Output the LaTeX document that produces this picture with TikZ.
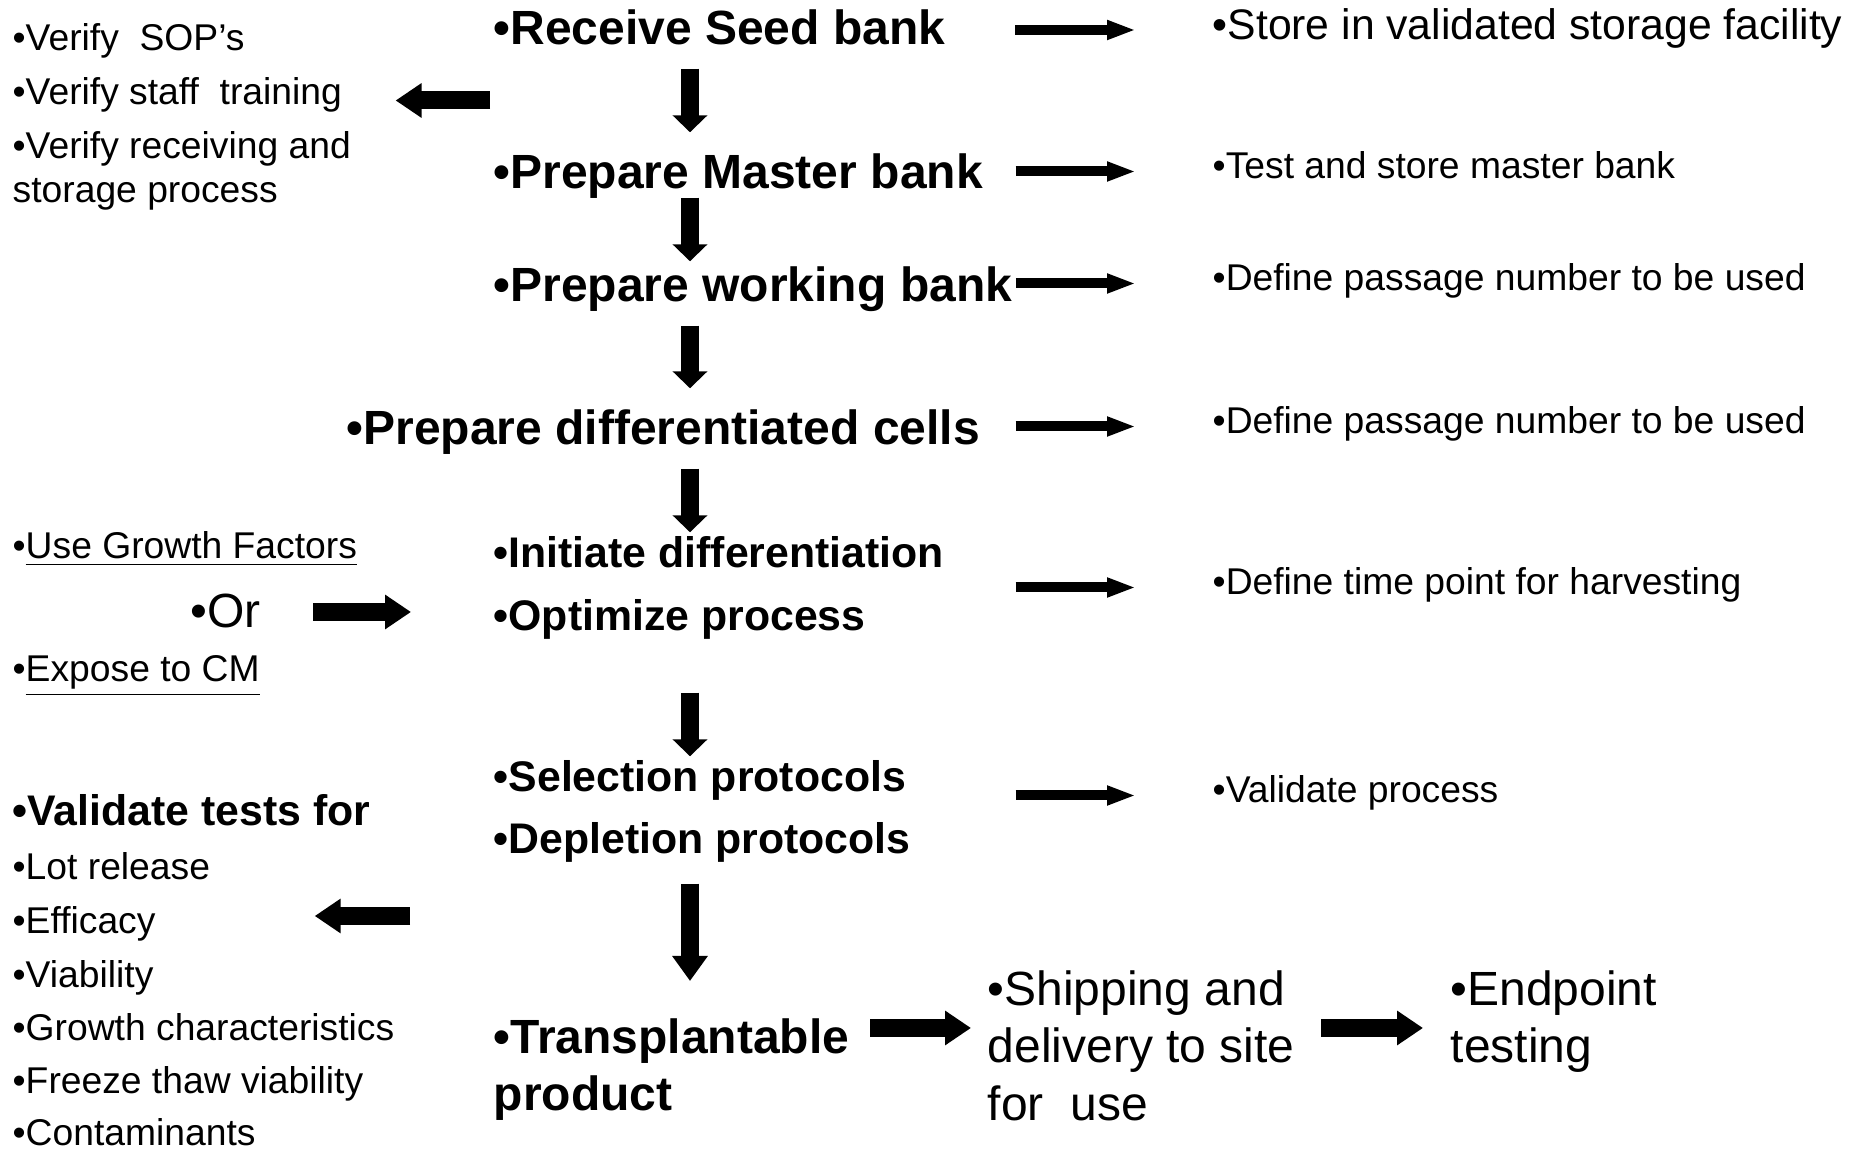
\documentclass[tikz,border=0pt]{standalone}
\usepackage{fontspec}
\setmainfont{Liberation Sans}[Ligatures=CommonOff]
\usetikzlibrary{arrows.meta}

\begin{document}
\begin{tikzpicture}[
	stage/.style={font=\fontsize{13.66}{16.3}\selectfont\bfseries, inner sep=0pt, anchor=base west, text height=0.36cm, text depth=0.12cm},
	substage/.style={font=\fontsize{12.18}{14.5}\selectfont\bfseries, inner sep=0pt, anchor=base west, text height=0.315cm, text depth=0.105cm},
	finalstage/.style={font=\fontsize{13.66}{16.2}\selectfont\bfseries, inner sep=0pt, anchor=north west, align=left},
	note/.style={font=\fontsize{12.15}{14.5}\selectfont, inner sep=0pt, anchor=base west, text height=0.31cm, text depth=0.11cm},
	rnote/.style={font=\fontsize{10.6}{12.5}\selectfont, inner sep=0pt, anchor=base west, text height=0.26cm, text depth=0.11cm},
	lnote/.style={font=\fontsize{10.6}{12.5}\selectfont, inner sep=0pt, anchor=base west},
	bignote/.style={font=\fontsize{13.66}{16.36}\selectfont, inner sep=0pt, anchor=north west, align=left},
	downarrow/.style={line width=0.18cm, -{Triangle[width=0.34cm, length=0.17cm]}},
	thinarrow/.style={line width=0.10cm, -{Triangle[width=0.18cm, length=0.29cm]}, shorten >=0.76cm},
	blockarrow/.style={line width=0.18cm, -{Triangle[width=0.33cm, length=0.26cm]}}
]
\useasboundingbox (0,0) rectangle (18.64,-11.50);

% main process column
\node[stage] (recv) at (4.93,-0.45) {•Receive Seed bank};
\node[stage] (master) at (4.93,-1.89) {•Prepare Master bank};
\node[stage] (working) at (4.93,-3.02) {•Prepare working bank};
\node[stage] (diff) at (3.46,-4.45) {•Prepare differentiated cells};
\node[substage] (init) at (4.93,-5.68) {•Initiate differentiation};
\node[substage] (optim) at (4.93,-6.31) {•Optimize process};
\node[substage] (select) at (4.93,-7.92) {•Selection protocols};
\node[substage] (deplet) at (4.93,-8.54) {•Depletion protocols};
\node[finalstage] (trans) at (4.93,-10.18) {•Transplantable\\product};
\node[bignote] (ship) at (9.87,-9.70) {•Shipping and\\delivery to site\\for\ \ use};
\node[bignote] (endp) at (14.50,-9.70) {•Endpoint\\testing};

% right notes
\node[note] (store) at (12.12,-0.40) {•Store in validated storage facility};
\node[rnote] (test) at (12.12,-1.79) {•Test and store master bank};
\node[rnote] (pass1) at (12.12,-2.91) {•Define passage number to be used};
\node[rnote] (pass2) at (12.12,-4.34) {•Define passage number to be used};
\node[rnote] (harvest) at (12.12,-5.95) {•Define time point for harvesting};
\node[rnote] (valproc) at (12.12,-8.03) {•Validate process};

% left notes
\node[lnote] (vsop) at (0.12,-0.51) {•Verify\ \ SOP’s};
\node[lnote] (vstaff) at (0.12,-1.05) {•Verify staff\ \ training};
\node[lnote, anchor=north west, align=left] (vproc) at (0.12,-1.31) {•Verify receiving and\\storage process};
\node[lnote] (growf) at (0.12,-5.59) {•\underline{Use Growth Factors}};
\node[bignote, anchor=base west] (orr) at (1.90,-6.28) {•Or};
\node[lnote] (expcm) at (0.12,-6.82) {•\underline{Expose to CM}};
\node[substage] (valid) at (0.12,-8.26) {•Validate tests for};
\node[lnote] (lot) at (0.12,-8.80) {•Lot release};
\node[lnote] (eff) at (0.12,-9.34) {•Efficacy};
\node[lnote] (via) at (0.12,-9.88) {•Viability};
\node[lnote] (growth) at (0.12,-10.41) {•Growth characteristics};
\node[lnote] (freeze) at (0.12,-10.94) {•Freeze thaw viability};
\node[lnote] (contam) at (0.12,-11.46) {•Contaminants};

% down the column
\coordinate (col) at (6.90,0);
\draw[downarrow, shorten <=0.11cm, shorten >=0.20cm] (recv.south -| col) -- (master.north -| col);
\draw[downarrow, shorten <=-0.04cm, shorten >=0.04cm] (master.south -| col) -- (working.north -| col);
\draw[downarrow, shorten <=0.11cm, shorten >=0.20cm] (working.south -| col) -- (diff.north -| col);
\draw[downarrow, shorten <=0.11cm, shorten >=0.035cm] (diff.south -| col) -- (init.north -| col);
\draw[downarrow, shorten <=0.505cm, shorten >=0.035cm] (optim.south -| col) -- (select.north -| col);
\draw[downarrow, shorten <=0.185cm, shorten >=0.37cm, -{Triangle[width=0.34cm, length=0.25cm]}] (deplet.south -| col) -- (trans.north -| col);

% to the right notes
\draw[thinarrow, shorten <=0.69cm] (recv.east |- store.west) -- (store.west);
\draw[thinarrow, shorten <=0.32cm] (master.east |- test.west) -- (test.west);
\draw[thinarrow, shorten <=0.03cm] (working.east |- pass1.west) -- (pass1.west);
\draw[thinarrow, shorten <=0.35cm] (diff.east |- pass2.west) -- (pass2.west);
\draw[thinarrow, shorten <=0.71cm] (init.east |- harvest.west) -- (harvest.west);
\draw[thinarrow, shorten <=1.09cm] (select.east |- valproc.west) -- (valproc.west);

% block arrows
\coordinate (vtail) at (4.90,-1.005);
\coordinate (otail) at (3.13,-6.12);
\coordinate (etail) at (4.10,-9.16);
\coordinate (stail) at (8.70,-10.28);
\coordinate (ptail) at (13.21,-10.28);
\draw[blockarrow, shorten >=0.53cm] (vtail) -- (vstaff.east |- vtail);
\draw[blockarrow, shorten >=0.82cm] (otail) -- (optim.west |- otail);
\draw[blockarrow, shorten >=1.585cm] (etail) -- (eff.east |- etail);
\draw[blockarrow, shorten >=0.16cm] (stail) -- (ship.west |- stail);
\draw[blockarrow, shorten >=0.27cm] (ptail) -- (endp.west |- ptail);
\end{tikzpicture}
\end{document}
